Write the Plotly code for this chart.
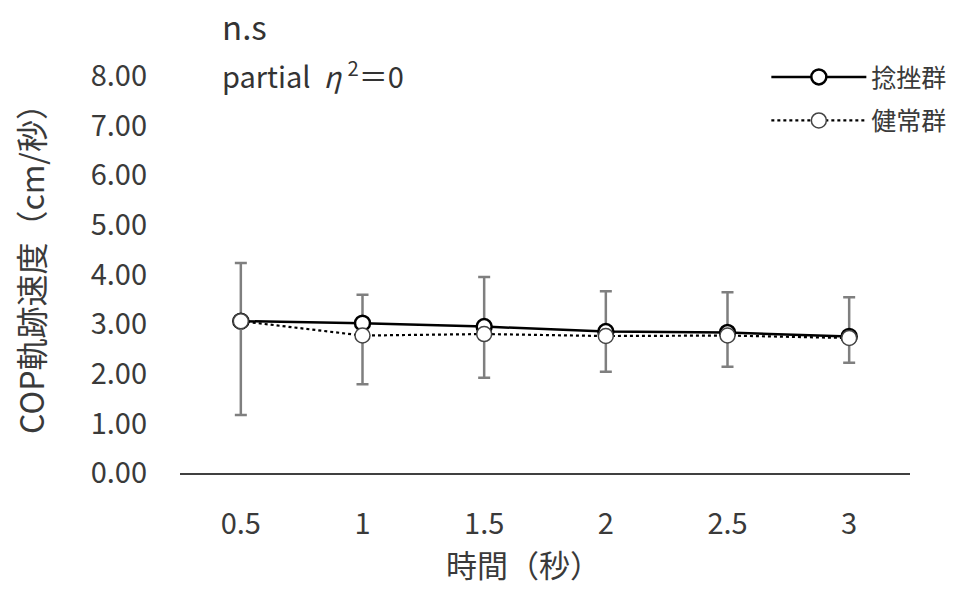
import plotly.graph_objects as go

categories = ["0.5", "1", "1.5", "2", "2.5", "3"]
sprain_mean = [3.06, 3.02, 2.95, 2.85, 2.83, 2.75]
sprain_sd_upper = [1.17, 0.57, 1.00, 0.81, 0.81, 0.79]
healthy_mean = [3.06, 2.77, 2.80, 2.76, 2.77, 2.72]
healthy_sd_lower = [1.89, 0.98, 0.88, 0.72, 0.63, 0.50]

FONT = "Noto Sans CJK JP, Noto Sans, sans-serif"
TXT = "#3a3a3a"
ERR = "#7f7f7f"

L, R, T, B = 180, 45, 76, 116
PW, PH = 955 - L - R, 589 - T - B

def px_x(x):
    return (x - L) / PW

def px_y(y):
    return (589 - B - y) / PH

fig = go.Figure()
fig.add_trace(go.Scatter(
    x=categories, y=sprain_mean, name="捻挫群", mode="lines+markers", legendgroup="a",
    line=dict(color="black", width=2.5),
    marker=dict(symbol="circle", size=15, color="white", line=dict(color="black", width=2.5)),
    error_y=dict(type="data", symmetric=False, array=sprain_sd_upper,
                 arrayminus=[0] * len(categories), color=ERR, thickness=2.5, width=6),
))
fig.add_trace(go.Scatter(
    x=categories, y=healthy_mean, name="健常群", mode="lines+markers", legendgroup="b",
    line=dict(color="black", width=2.2, dash="dot"),
    marker=dict(symbol="circle", size=15, color="white", line=dict(color="#444444", width=1.5)),
    error_y=dict(type="data", symmetric=False, array=[0] * len(categories),
                 arrayminus=healthy_sd_lower, color=ERR, thickness=2.5, width=6),
))

fig.update_layout(
    width=955, height=589,
    margin=dict(l=L, r=R, t=T, b=B, autoexpand=False),
    paper_bgcolor="white", plot_bgcolor="white",
    font=dict(family=FONT, color=TXT, size=29),
    showlegend=True,
    legend=dict(x=1.058, y=1.055, xanchor="right", yanchor="top",
                font=dict(size=25, color=TXT), itemwidth=95,
                bgcolor="rgba(0,0,0,0)", tracegroupgap=8),
    xaxis=dict(type="category", range=[-0.5, 5.5], showline=True, linecolor="#404040",
               linewidth=1.5, showgrid=False, ticks="", ticklabelstandoff=24,
               automargin=False, tickfont=dict(size=29, color=TXT)),
    yaxis=dict(range=[0, 8], tickvals=[0, 1, 2, 3, 4, 5, 6, 7, 8], tickformat=".2f",
               showline=False, showgrid=False, zeroline=False, ticks="",
               automargin=False, ticklabelstandoff=32, tickfont=dict(size=29, color=TXT)),
    annotations=[
        dict(text="n.s", xref="paper", yref="paper", x=px_x(220), y=px_y(26),
             xanchor="left", yanchor="middle", showarrow=False,
             font=dict(size=33, color="#333333")),
        dict(text="partial  <i>η</i> <sup>2</sup>＝0", xref="paper", yref="paper",
             x=px_x(220), y=px_y(74), xanchor="left", yanchor="middle", showarrow=False,
             font=dict(size=29, color="#333333")),
        dict(text="時間（秒）", xref="paper", yref="paper", x=px_x(523), y=px_y(588),
             xanchor="center", yanchor="bottom", showarrow=False,
             font=dict(size=31, color=TXT)),
        dict(text="COP軌跡速度（cm/秒）", xref="paper", yref="paper", x=px_x(30), y=px_y(261),
             xanchor="center", yanchor="middle", showarrow=False, textangle=-90,
             font=dict(size=32, color=TXT)),
    ],
)

fig.write_html("out.html")
